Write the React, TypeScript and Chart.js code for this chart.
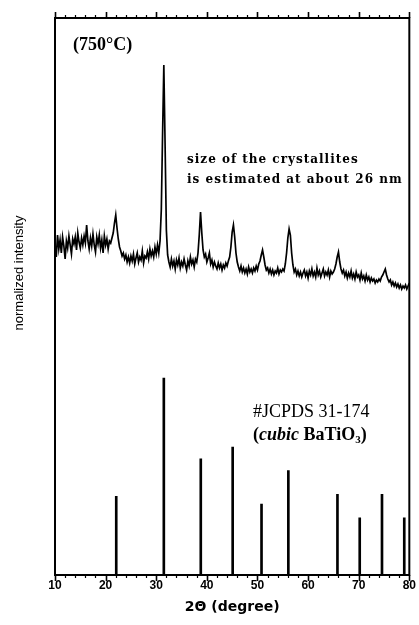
import { useEffect, useRef } from 'react';
import { Chart, registerables } from 'chart.js';

Chart.register(...registerables);

// 2θ (degree) of the measured pattern
const xrdTwoTheta = [
  10, 10.25, 10.5, 10.75, 11, 11.25, 11.5, 11.75,
  12, 12.25, 12.5, 12.75, 13, 13.25, 13.5, 13.75,
  14, 14.25, 14.5, 14.75, 15, 15.25, 15.5, 15.75,
  16, 16.25, 16.5, 16.75, 17, 17.25, 17.5, 17.75,
  18, 18.25, 18.5, 18.75, 19, 19.25, 19.5, 19.75,
  20, 20.25, 20.5, 20.75, 21, 21.25, 21.5, 21.75,
  22, 22.25, 22.5, 22.75, 23, 23.25, 23.5, 23.75,
  24, 24.25, 24.5, 24.75, 25, 25.25, 25.5, 25.75,
  26, 26.25, 26.5, 26.75, 27, 27.25, 27.5, 27.75,
  28, 28.25, 28.5, 28.75, 29, 29.25, 29.5, 29.75,
  30, 30.25, 30.5, 30.75, 31, 31.25, 31.5, 31.75,
  32, 32.25, 32.5, 32.75, 33, 33.25, 33.5, 33.75,
  34, 34.25, 34.5, 34.75, 35, 35.25, 35.5, 35.75,
  36, 36.25, 36.5, 36.75, 37, 37.25, 37.5, 37.75,
  38, 38.25, 38.5, 38.75, 39, 39.25, 39.5, 39.75,
  40, 40.25, 40.5, 40.75, 41, 41.25, 41.5, 41.75,
  42, 42.25, 42.5, 42.75, 43, 43.25, 43.5, 43.75,
  44, 44.25, 44.5, 44.75, 45, 45.25, 45.5, 45.75,
  46, 46.25, 46.5, 46.75, 47, 47.25, 47.5, 47.75,
  48, 48.25, 48.5, 48.75, 49, 49.25, 49.5, 49.75,
  50, 50.25, 50.5, 50.75, 51, 51.25, 51.5, 51.75,
  52, 52.25, 52.5, 52.75, 53, 53.25, 53.5, 53.75,
  54, 54.25, 54.5, 54.75, 55, 55.25, 55.5, 55.75,
  56, 56.25, 56.5, 56.75, 57, 57.25, 57.5, 57.75,
  58, 58.25, 58.5, 58.75, 59, 59.25, 59.5, 59.75,
  60, 60.25, 60.5, 60.75, 61, 61.25, 61.5, 61.75,
  62, 62.25, 62.5, 62.75, 63, 63.25, 63.5, 63.75,
  64, 64.25, 64.5, 64.75, 65, 65.25, 65.5, 65.75,
  66, 66.25, 66.5, 66.75, 67, 67.25, 67.5, 67.75,
  68, 68.25, 68.5, 68.75, 69, 69.25, 69.5, 69.75,
  70, 70.25, 70.5, 70.75, 71, 71.25, 71.5, 71.75,
  72, 72.25, 72.5, 72.75, 73, 73.25, 73.5, 73.75,
  74, 74.25, 74.5, 74.75, 75, 75.25, 75.5, 75.75,
  76, 76.25, 76.5, 76.75, 77, 77.25, 77.5, 77.75,
  78, 78.25, 78.5, 78.75, 79, 79.25, 79.5, 79.75,
  80,
];

// measured intensity (arbitrary units)
const xrdIntensity = [
  330, 318, 340, 326, 335, 322, 338, 329,
  316, 334, 327, 339, 330, 321, 336, 331,
  338, 325, 342, 333, 327, 337, 330, 339,
  332, 350, 334, 326, 337, 329, 341, 330,
  323, 338, 331, 340, 327, 335, 322, 339,
  330, 336, 326, 334, 332, 337, 342, 352,
  360, 347, 336, 328, 324, 319, 322, 316,
  320, 313, 318, 312, 319, 314, 321, 311,
  317, 322, 313, 318, 315, 324, 312, 319,
  317, 323, 316, 326, 319, 324, 318, 328,
  321, 330, 322, 334, 365, 440, 510, 430,
  345, 320, 313, 308, 316, 309, 314, 306,
  315, 310, 317, 307, 313, 309, 316, 310,
  305, 314, 309, 318, 311, 315, 308, 316,
  313, 322, 340, 363, 342, 325, 318, 321,
  313, 317, 322, 311, 315, 308, 313, 309,
  306, 312, 307, 311, 305, 310, 307, 312,
  309, 314, 318, 328, 343, 350, 338, 322,
  313, 308, 304, 309, 303, 307, 302, 306,
  301, 308, 303, 306, 302, 307, 304, 309,
  305, 311, 314, 320, 325, 318, 310, 305,
  307, 302, 306, 301, 305, 300, 304, 302,
  307, 301, 305, 303, 306, 304, 311, 322,
  337, 346, 340, 322, 310, 303, 306, 300,
  304, 299, 303, 298, 302, 305, 299, 303,
  297, 304, 300, 306, 299, 303, 298, 307,
  300, 304, 298, 302, 306, 299, 303, 300,
  305, 298, 304, 301, 303, 306, 311, 318,
  323, 313, 306, 302, 305, 299, 303, 297,
  302, 298, 304, 297, 301, 296, 303, 298,
  300, 295, 302, 296, 299, 294, 300, 295,
  298, 293, 297, 294, 296, 292, 295, 293,
  296, 294, 298, 300, 303, 306, 300, 296,
  293, 295, 290, 293, 289, 292, 288, 291,
  287, 290, 286, 289, 287, 290, 286, 289,
  292,
];

// #JCPDS 31-174 reference lines (cubic BaTiO3)
const jcpdsTwoTheta = [22.1, 31.5, 38.8, 45.1, 50.8, 56.1, 65.8, 70.2, 74.6, 79.0];
const jcpdsIntensity = [40, 100, 59, 65, 36, 53, 41, 29, 41, 29];

const majorTicks = [10, 20, 30, 40, 50, 60, 70, 80];
const minorTicks = [12, 14, 16, 18, 22, 24, 26, 28, 32, 34, 36, 38, 42, 44, 46, 48, 52, 54, 56, 58, 62, 64, 66, 68, 72, 74, 76, 78];

const xTitle = '2Θ (degree)';
const yTitle = 'normalized intensity';
const sampleLabel = '(750°C)';
const sizeNote = ['size of the crystallites', 'is estimated at about 26 nm'];
const refLabel = '#JCPDS 31-174';

const framePlugin = {
  id: 'frameAndText',
  afterDraw(chart: any) {
    const { ctx, chartArea: a, scales } = chart;
    const xs = scales.x;
    ctx.save();
    ctx.strokeStyle = '#000';
    ctx.fillStyle = '#000';
    // frame
    ctx.lineWidth = 2;
    ctx.strokeRect(a.left, a.top, a.right - a.left, a.bottom - a.top);
    // ticks (outward, top and bottom)
    const drawTick = (v: number, len: number, w: number) => {
      const px = Math.round(xs.getPixelForValue(v)) + 0.5;
      ctx.lineWidth = w;
      ctx.beginPath();
      ctx.moveTo(px, a.bottom);
      ctx.lineTo(px, a.bottom + len);
      ctx.moveTo(px, a.top);
      ctx.lineTo(px, a.top - len);
      ctx.stroke();
    };
    majorTicks.forEach((v) => drawTick(v, 6, 1.6));
    minorTicks.forEach((v) => drawTick(v, 3, 1.2));

    // y title
    ctx.save();
    ctx.translate(19, 273);
    ctx.rotate(-Math.PI / 2);
    ctx.font = '13px "Liberation Sans", Arial, sans-serif';
    ctx.textAlign = 'center';
    ctx.textBaseline = 'middle';
    ctx.fillText(yTitle, 0, 0);
    ctx.restore();

    // sample label
    ctx.textAlign = 'left';
    ctx.textBaseline = 'middle';
    ctx.font = 'bold 18px "Liberation Serif", "Times New Roman", serif';
    ctx.fillText(sampleLabel, 73, 45);

    // crystallite size note
    ctx.font = 'bold 12px "DejaVu Serif", serif';
    (ctx as any).letterSpacing = '1px';
    ctx.fillText(sizeNote[0], 187, 160);
    ctx.fillText(sizeNote[1], 187, 180);
    (ctx as any).letterSpacing = '0px';

    // JCPDS label
    ctx.font = '18px "Liberation Serif", "Times New Roman", serif';
    ctx.fillText(refLabel, 253, 412);
    let cx = 253;
    const cy = 435;
    const bold = 'bold 18px "Liberation Serif", serif';
    const boldItalic = 'italic bold 18px "Liberation Serif", serif';
    const pieces: [string, string, number][] = [
      ['(', bold, 0],
      ['cubic', boldItalic, 0],
      [' BaTiO', bold, 0],
      ['3', 'bold 11px "Liberation Serif", serif', 5],
      [')', bold, 0],
    ];
    pieces.forEach(([t, f, dy]) => {
      ctx.font = f;
      ctx.fillText(t, cx, cy + dy);
      cx += ctx.measureText(t).width;
    });
    ctx.restore();
  },
};

export default function App() {
  const ref = useRef<HTMLCanvasElement>(null);
  useEffect(() => {
    if (!ref.current) return;
    const chart = new Chart(ref.current, {
      type: 'line',
      data: {
        datasets: [
          {
            type: 'line',
            label: 'XRD 750°C',
            data: xrdTwoTheta.map((x, i) => ({ x, y: xrdIntensity[i] })),
            borderColor: '#000',
            borderWidth: 1.7,
            pointRadius: 0,
            tension: 0,
            xAxisID: 'x',
            yAxisID: 'y',
          },
          {
            type: 'bar',
            label: refLabel,
            data: jcpdsTwoTheta.map((x, i) => ({ x, y: jcpdsIntensity[i] })),
            backgroundColor: '#000',
            barThickness: 2,
            xAxisID: 'x',
            yAxisID: 'y2',
          },
        ],
      } as any,
      options: {
        responsive: false,
        animation: false,
        layout: { padding: { top: 18, right: 7, left: 0, bottom: 0 } },
        plugins: { legend: { display: false }, tooltip: { enabled: false } },
        scales: {
          x: {
            type: 'linear',
            position: 'bottom',
            min: 10,
            max: 80,
            offset: false,
            grid: { display: false, drawTicks: false },
            border: { display: false },
            ticks: {
              stepSize: 10,
              color: '#000',
              font: { family: '"Liberation Sans", Arial, sans-serif', weight: 'bold', size: 12 },
              padding: 3,
              maxRotation: 0,
              autoSkip: false,
            },
            title: {
              display: true,
              text: xTitle,
              color: '#000',
              font: { family: '"DejaVu Sans", sans-serif', weight: 'bold', size: 14 },
              padding: { top: 0, bottom: 9 },
            },
            afterFit: (s: any) => {
              s.height = 50;
            },
          },
          y: {
            type: 'linear',
            position: 'left',
            min: 0,
            max: 557,
            grid: { display: false, drawTicks: false },
            border: { display: false },
            ticks: { display: false },
            afterFit: (s: any) => {
              s.width = 55;
            },
          },
          y2: { type: 'linear', position: 'left', min: 0, max: 283, display: false },
        },
      } as any,
      plugins: [framePlugin],
    });
    return () => chart.destroy();
  }, []);
  return (
    <div style={{ position: 'absolute', left: 0, top: 0, width: 419, height: 625, background: '#fff' }}>
      <canvas ref={ref} width={419} height={625} style={{ display: 'block' }} />
    </div>
  );
}
